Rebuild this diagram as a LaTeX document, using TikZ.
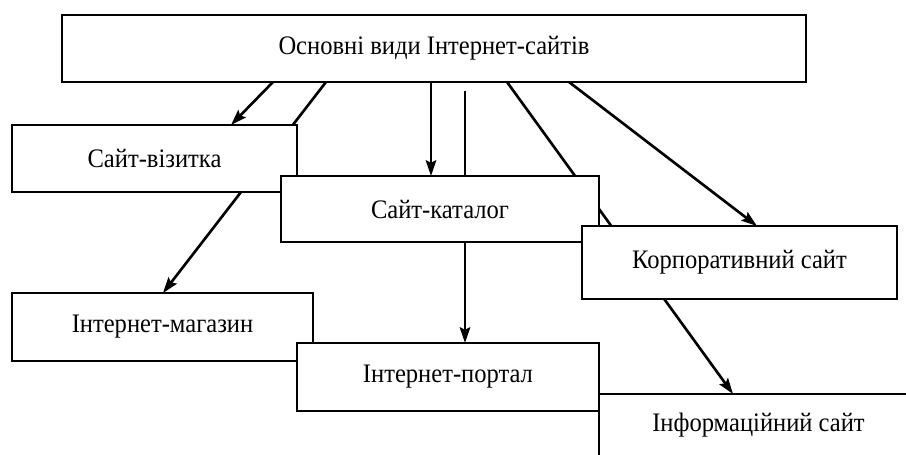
\documentclass[tikz,border=0pt]{standalone}
\usepackage{fontspec}
\setmainfont{Liberation Serif}[FakeStretch=0.92]
\usetikzlibrary{arrows.meta,backgrounds}

\begin{document}
\begin{tikzpicture}[x=0.02cm,y=-0.02cm,
  vyd/.style={draw,fill=white,line width=0.9pt,inner sep=0pt,outer sep=0pt,
    font=\fontsize{15.2}{18}\selectfont},
  strilka/.style={line width=1.5pt,-{Stealth[length=9pt,width=6pt,inset=1.5pt]}}]
\useasboundingbox (0,0) rectangle (906,454);
\clip (0,0) rectangle (906,454);

\node[vyd,minimum width=14.88cm,minimum height=1.34cm] (osn) at (434,48.5) {Основні види Інтернет-сайтів};
\node[vyd,minimum width=5.7cm,minimum height=1.34cm] (vizyt) at (154.5,158.5) {Сайт-візитка};
\node[vyd,minimum width=6.36cm,minimum height=1.32cm] (katal) at (440,209) {Сайт-каталог};
\node[vyd,minimum width=6.3cm,minimum height=1.46cm] (korp) at (739.5,262.5) {Корпоративний сайт};
\node[vyd,minimum width=6.02cm,minimum height=1.36cm] (magaz) at (162.5,327) {Інтернет-магазин};
\node[vyd,minimum width=6.04cm,minimum height=1.36cm] (port) at (448,377) {Інтернет-портал};
\node[vyd,minimum width=6.38cm,minimum height=1.24cm] (inform) at (758.5,425) {Інформаційний сайт};

% strilky pid blokamy
\begin{scope}[on background layer]
\draw[strilka] (osn.south -| 273,0) -- (vizyt.north -| 231,0);
\draw[strilka] (osn.south -| 326,0) -- (magaz.north -| 163,0);
\draw[strilka] (osn.south -| 431,0) -- (katal.north -| 431,0);
\draw[strilka,shorten <=0.18cm] (osn.south -| 465,0) -- (port.north -| 465,0);
\draw[strilka] (osn.south -| 507,0) -- (inform.north -| 733,0);
\draw[strilka] (osn.south -| 569,0) -- (korp.north -| 757,0);
\end{scope}
\end{tikzpicture}
\end{document}
